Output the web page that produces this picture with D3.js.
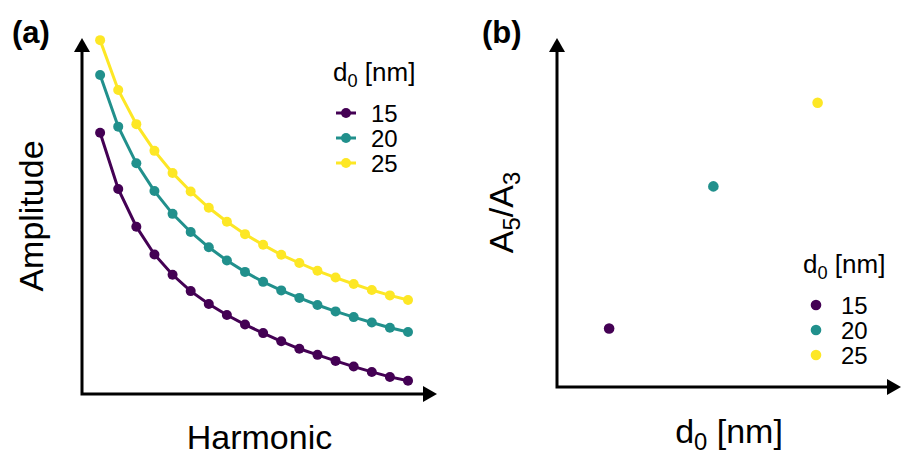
<!DOCTYPE html>
<html><head><meta charset="utf-8">
<script src="https://cdn.jsdelivr.net/npm/d3@7"></script>
<style>body{margin:0;background:#fff}svg{display:block}text{font-family:"Liberation Sans",Arial,sans-serif;fill:#000}</style>
</head><body>
<svg id="c" width="901" height="456"></svg>
<script>
// ---- data ----
const harmonics = d3.range(1, 19);
const diameters = [15, 20, 25];
const colors = ["#440154", "#21908C", "#FDE725"];
const amp15 = [73.4, 57.6, 47.0, 39.2, 33.5, 28.9, 25.3, 22.2, 19.5, 17.1, 14.8, 12.7, 11.0, 9.3, 7.7, 6.2, 4.8, 3.7];
const amp20 = [89.6, 75.1, 64.8, 57.0, 50.6, 45.5, 41.2, 37.5, 34.3, 31.5, 29.1, 27.0, 25.0, 23.2, 21.6, 20.1, 18.6, 17.4];
const amp25 = [99.4, 85.4, 75.8, 68.3, 62.1, 56.9, 52.3, 48.4, 44.9, 41.9, 39.1, 36.8, 34.6, 32.7, 30.9, 29.2, 27.7, 26.4];
const ratioA5A3 = [0.713, 0.781, 0.821];
const legendTitle = ["d", "0", " [nm]"];

const svg = d3.select("#c");
const series = [amp15, amp20, amp25].map((v, i) => ({d: diameters[i], c: colors[i], vals: v}));

function arrowAxes(g, x0, y0, x1, y1) {
  const ah = 14, aw = 8;
  g.append("path").attr("d", `M${x0},${y1 + ah - 1}V${y0}H${x1 - ah + 1}`)
    .attr("fill", "none").attr("stroke", "#000").attr("stroke-width", 3);
  g.append("path").attr("d", `M${x0},${y1}L${x0 + aw},${y1 + ah}L${x0 - aw},${y1 + ah}Z`).attr("fill", "#000");
  g.append("path").attr("d", `M${x1},${y0}L${x1 - ah},${y0 - aw}L${x1 - ah},${y0 + aw}Z`).attr("fill", "#000");
}

function subText(g, parts, x, y, size, anchor, rotate) {
  const t = g.append("text").attr("font-size", size).attr("text-anchor", anchor || "start");
  if (rotate) t.attr("transform", `translate(${x},${y}) rotate(-90)`);
  else t.attr("x", x).attr("y", y);
  parts.forEach((p, i) => {
    const ts = t.append("tspan").text(p.t);
    if (p.sub) ts.attr("font-size", size * 0.7).attr("dy", size * 0.22);
    else if (i > 0 && parts[i - 1].sub) ts.attr("dy", -size * 0.22);
  });
  return t;
}

// ---- panel (a) ----
const xA = d3.scaleLinear().domain([0, 19.6]).range([82, 437]);
const yA = d3.scaleLinear().domain([0, 100]).range([394, 38]);
const gA = svg.append("g");
arrowAxes(gA, xA(0), yA(0), xA(19.6), yA(100));
const line = d3.line().x((v, i) => xA(harmonics[i])).y(v => yA(v));
series.forEach(s => {
  gA.append("path").attr("d", line(s.vals)).attr("fill", "none").attr("stroke", s.c).attr("stroke-width", 3);
  gA.selectAll(null).data(s.vals).join("circle")
    .attr("cx", (v, i) => xA(harmonics[i])).attr("cy", v => yA(v)).attr("r", 5).attr("fill", s.c);
});
gA.append("text").attr("x", 12).attr("y", 43).attr("font-size", 31).attr("font-weight", "bold").text("(a)");
gA.append("text").attr("transform", `translate(43,${(yA(0) + yA(100)) / 2}) rotate(-90)`)
  .attr("text-anchor", "middle").attr("font-size", 34).text("Amplitude");
gA.append("text").attr("x", (xA(0) + xA(19.6)) / 2).attr("y", 449).attr("text-anchor", "middle")
  .attr("font-size", 34).text("Harmonic");

function legend(g, x0, yTitle, withLine, r) {
  subText(g, [{t: legendTitle[0]}, {t: legendTitle[1], sub: true}, {t: legendTitle[2]}], x0, yTitle, 26);
  diameters.forEach((d, i) => {
    const cy = yTitle + 32 + i * 25;
    if (withLine) g.append("line").attr("x1", x0 + 3).attr("x2", x0 + 23).attr("y1", cy).attr("y2", cy)
      .attr("stroke", colors[i]).attr("stroke-width", 3);
    g.append("circle").attr("cx", x0 + 13).attr("cy", cy).attr("r", r).attr("fill", colors[i]);
    g.append("text").attr("x", x0 + 38).attr("y", cy + 8.6).attr("font-size", 24).text(d);
  });
}
legend(gA, 333, 81, true, 5);

// ---- panel (b) ----
const xB = d3.scaleLinear().domain([12.5, 29]).range([557, 901]);
const yB = d3.scaleLinear().domain([0.685, 0.852]).range([387, 38]);
const gB = svg.append("g");
arrowAxes(gB, xB(12.5), yB(0.685), xB(29), yB(0.852));
gB.selectAll(null).data(ratioA5A3).join("circle")
  .attr("cx", (v, i) => xB(diameters[i])).attr("cy", v => yB(v)).attr("r", 5.3).attr("fill", (v, i) => colors[i]);
gB.append("text").attr("x", 482).attr("y", 43).attr("font-size", 31).attr("font-weight", "bold").text("(b)");
subText(gB, [{t: "A"}, {t: "5", sub: true}, {t: "/A"}, {t: "3", sub: true}], 513, (yB(0.685) + yB(0.852)) / 2, 34, "middle", true);
subText(gB, [{t: legendTitle[0]}, {t: legendTitle[1], sub: true}, {t: legendTitle[2]}], (xB(12.5) + xB(29)) / 2, 443, 34, "middle");
legend(gB, 803, 273, false, 5.3);
</script>
</body></html>
